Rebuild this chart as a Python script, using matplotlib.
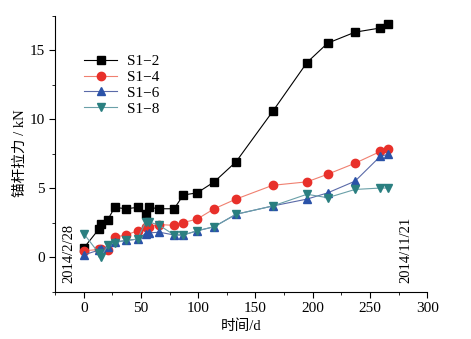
import matplotlib.pyplot as plt

plt.rcParams['font.family'] = ['Liberation Serif', 'Noto Sans CJK SC']

# days since 2014/2/28
days = [0, 13, 15, 21, 27, 37, 47, 54, 57, 66, 79, 87, 99, 114, 133,
        165, 195, 213, 237, 259, 266]

s1_2 = [0.65, 2.0, 2.4, 2.7, 3.6, 3.5, 3.6, 3.1, 3.6, 3.5, 3.5, 4.5, 4.65,
        5.45, 6.9, 10.55, 14.1, 15.5, 16.3, 16.6, 16.9]
s1_4 = [0.45, 0.55, 0.6, 0.5, 1.45, 1.6, 1.9, 2.15, 2.2, 2.35, 2.3, 2.5, 2.75,
        3.5, 4.2, 5.2, 5.45, 6.0, 6.8, 7.65, 7.85]
s1_6 = [0.15, 0.5, 0.6, 0.75, 1.1, 1.2, 1.3, 1.7, 1.75, 1.8, 1.6, 1.6, 1.9,
        2.2, 3.1, 3.7, 4.2, 4.65, 5.5, 7.3, 7.45]
s1_8 = [1.7, 0.3, 0.0, 0.85, 1.05, 1.2, 1.3, 2.55, 2.55, 2.3, 1.6, 1.6, 1.9,
        2.2, 3.1, 3.7, 4.55, 4.3, 4.9, 5.0, 5.0]

fig = plt.figure(figsize=(4.71, 3.39), dpi=100)
ax = fig.add_axes([0.117, 0.14, 0.79, 0.814])

ax.plot(days, s1_2, color='black', lw=0.8, marker='s', ms=5.5,
        mfc='black', mec='black', label='S1\u22122')
ax.plot(days, s1_4, color='#f08070', lw=0.8, marker='o', ms=6,
        mfc='#e8302a', mec='#e8302a', label='S1\u22124')
ax.plot(days, s1_6, color='#5a6aa8', lw=0.8, marker='^', ms=6,
        mfc='#2a52a8', mec='#2a52a8', label='S1\u22126')
ax.plot(days, s1_8, color='#6aa0a8', lw=0.8, marker='v', ms=6,
        mfc='#2a7f80', mec='#2a7f80', label='S1\u22128')

ax.set_xlim(-25, 300)
ax.set_ylim(-2.5, 17.5)
ax.set_xticks([0, 50, 100, 150, 200, 250, 300])
ax.set_xticks(range(-25, 300, 25), minor=True)
ax.set_yticks([0, 5, 10, 15])
ax.set_yticks([-2.5, 2.5, 7.5, 12.5, 17.5], minor=True)
ax.tick_params(direction='out', labelsize=11, length=4)
ax.tick_params(which='minor', direction='out', length=2.5)

ax.spines['top'].set_visible(False)
ax.spines['right'].set_visible(False)

ax.set_xlabel('时间/d', fontsize=10.5, labelpad=3)
ax.set_ylabel('锚杆拉力 / kN', fontsize=10.5, labelpad=2)

ax.text(-13, -1.9, '2014/2/28', rotation=90, fontsize=10.5,
        ha='center', va='bottom')
ax.text(281, -1.9, '2014/11/21', rotation=90, fontsize=10.5,
        ha='center', va='bottom')

ax.legend(loc='upper left', bbox_to_anchor=(0.04, 0.91), frameon=False,
          fontsize=11, handlelength=2.2, labelspacing=0.15, handletextpad=0.6)

fig.savefig('out.png', dpi=100)
